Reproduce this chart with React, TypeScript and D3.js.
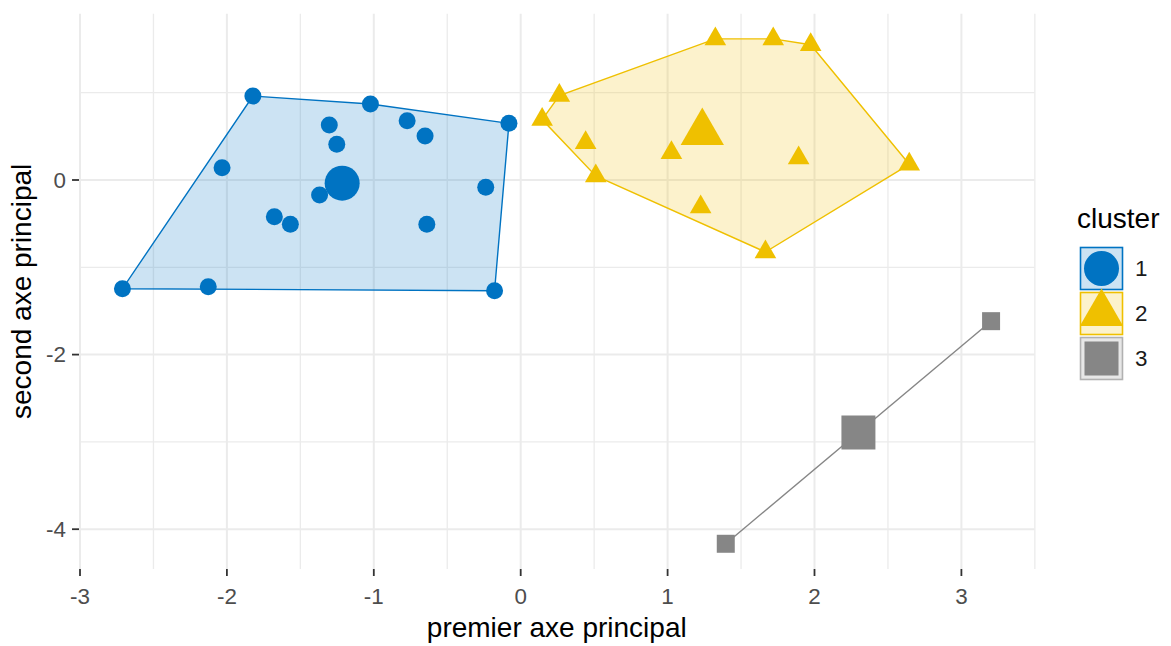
import React from "react";
import * as d3 from "d3";

// Cluster 1 (blue circles)
const cluster1X = [-1.823, -1.023, -0.773, -0.651, -0.080, -1.303, -1.252, -2.033, -1.369, -1.677, -1.568, -0.639, -0.238, -2.711, -2.127, -0.178];
const cluster1Y = [0.962, 0.871, 0.679, 0.504, 0.649, 0.630, 0.409, 0.141, -0.172, -0.420, -0.507, -0.507, -0.084, -1.245, -1.222, -1.268];
// Cluster 2 (yellow triangles)
const cluster2X = [1.325, 1.719, 1.974, 0.263, 0.146, 0.442, 1.026, 1.892, 2.645, 0.511, 1.225, 1.666];
const cluster2Y = [1.616, 1.616, 1.550, 0.967, 0.692, 0.427, 0.313, 0.251, 0.180, 0.046, -0.309, -0.825];
// Cluster 3 (grey squares)
const cluster3X = [3.202, 1.396];
const cluster3Y = [-1.617, -4.167];

const clusterNames = ["1", "2", "3"];
const clusterColors = ["#0073C2", "#EFC000", "#868686"];
const xTicks = [-3, -2, -1, 0, 1, 2, 3];
const yTicks = [-4, -2, 0];
const xMinor = [-2.5, -1.5, -0.5, 0.5, 1.5, 2.5, 3.5];
const yMinor = [-3, -1, 1];
const xTitle = "premier axe principal";
const yTitle = "second axe principal";
const legendTitle = "cluster";

const FONT = "'Liberation Sans', Arial, sans-serif";

export default function App() {
  const W = 1171, H = 646;
  const clusters = [
    { xs: cluster1X, ys: cluster1Y },
    { xs: cluster2X, ys: cluster2Y },
    { xs: cluster3X, ys: cluster3Y },
  ];
  const allX = clusters.flatMap((c) => c.xs);
  const allY = clusters.flatMap((c) => c.ys);
  const [x0, x1] = d3.extent(allX) as [number, number];
  const [y0, y1] = d3.extent(allY) as [number, number];
  const xd: [number, number] = [x0 - 0.05 * (x1 - x0), x1 + 0.05 * (x1 - x0)];
  const yd: [number, number] = [y0 - 0.05 * (y1 - y0), y1 + 0.05 * (y1 - y0)];
  const xOrigin = 520.7, xUnit = 146.9, yOrigin = 180, yUnit = 87.3;
  const L = xOrigin + xUnit * xd[0], R = xOrigin + xUnit * xd[1];
  const T = yOrigin - yUnit * yd[1], B = yOrigin - yUnit * yd[0];
  const x = d3.scaleLinear().domain(xd).range([L, R]);
  const y = d3.scaleLinear().domain(yd).range([B, T]);

  const symTypes = [d3.symbolCircle, d3.symbolTriangle, d3.symbolSquare];
  const smallSizes = [Math.PI * 8.5 * 8.5, (12.5 * 12.5 * 3 * Math.sqrt(3)) / 4, 18 * 18];
  const bigSizes = [Math.PI * 17.5 * 17.5, (25 * 25 * 3 * Math.sqrt(3)) / 4, 34 * 34];

  const data = clusters.map((c, i) => {
    const pts: [number, number][] = c.xs.map((v, j) => [x(v), y(c.ys[j])]);
    const cx = d3.mean(c.xs) as number;
    const cy = d3.mean(c.ys) as number;
    const hull = pts.length >= 3 ? d3.polygonHull(pts) : pts;
    return { pts, center: [x(cx), y(cy)] as [number, number], hull, i };
  });

  const line = d3.line();

  return (
    <svg width={W} height={H} style={{ position: "absolute", left: 0, top: 0, background: "#fff" }} fontFamily={FONT}>
      <rect x={0} y={0} width={W} height={H} fill="#fff" />
      {/* grid */}
      <g>
        {xMinor.filter((v) => x(v) <= R + 1).map((v) => (
          <line key={"xm" + v} x1={x(v)} x2={x(v)} y1={T} y2={B} stroke="#EBEBEB" strokeWidth={1.3} />
        ))}
        {yMinor.map((v) => (
          <line key={"ym" + v} x1={L} x2={R} y1={y(v)} y2={y(v)} stroke="#EBEBEB" strokeWidth={1.3} />
        ))}
        {xTicks.map((v) => (
          <line key={"xM" + v} x1={x(v)} x2={x(v)} y1={T} y2={B} stroke="#EBEBEB" strokeWidth={2} />
        ))}
        {yTicks.map((v) => (
          <line key={"yM" + v} x1={L} x2={R} y1={y(v)} y2={y(v)} stroke="#EBEBEB" strokeWidth={2} />
        ))}
      </g>
      {/* hulls */}
      <g>
        {data.map((d) =>
          d.pts.length >= 3 ? (
            <path
              key={"h" + d.i}
              d={line([...(d.hull as [number, number][]), (d.hull as [number, number][])[0]]) || ""}
              fill={clusterColors[d.i]}
              fillOpacity={0.2}
              stroke={clusterColors[d.i]}
              strokeWidth={1.4}
            />
          ) : (
            <path key={"h" + d.i} d={line(d.pts) || ""} fill="none" stroke={clusterColors[d.i]} strokeWidth={1.4} />
          )
        )}
      </g>
      {/* points */}
      <g>
        {data.map((d) =>
          d.pts.map((p, j) => (
            <path
              key={"p" + d.i + "-" + j}
              transform={`translate(${p[0]},${p[1]})`}
              d={d3.symbol(symTypes[d.i], smallSizes[d.i])() || ""}
              fill={clusterColors[d.i]}
            />
          ))
        )}
        {data.map((d) => (
          <path
            key={"c" + d.i}
            transform={`translate(${d.center[0]},${d.center[1]})`}
            d={d3.symbol(symTypes[d.i], bigSizes[d.i])() || ""}
            fill={clusterColors[d.i]}
          />
        ))}
      </g>
      {/* x axis */}
      <g>
        {xTicks.map((v) => (
          <g key={"xt" + v}>
            <line x1={x(v)} x2={x(v)} y1={B} y2={B + 7} stroke="#333333" strokeWidth={1.8} />
            <text x={x(v)} y={B + 35} textAnchor="middle" fontSize={22.4} fill="#4D4D4D">
              {v}
            </text>
          </g>
        ))}
        <text x={(L + R) / 2} y={637} textAnchor="middle" fontSize={28} fill="#000">
          {xTitle}
        </text>
      </g>
      {/* y axis */}
      <g>
        {yTicks.map((v) => (
          <g key={"yt" + v}>
            <line x1={L - 7} x2={L} y1={y(v)} y2={y(v)} stroke="#333333" strokeWidth={1.8} />
            <text x={L - 13} y={y(v)} dy="0.35em" textAnchor="end" fontSize={22.4} fill="#4D4D4D">
              {v}
            </text>
          </g>
        ))}
        <text
          transform={`translate(${31},${(T + B) / 2}) rotate(-90)`}
          textAnchor="middle"
          fontSize={28}
          fill="#000"
        >
          {yTitle}
        </text>
      </g>
      {/* legend */}
      <g>
        <text x={1077} y={228} fontSize={28} fill="#000">
          {legendTitle}
        </text>
        {clusterNames.map((name, i) => {
          const ky = 247 + i * 45;
          const cx = 1080 + 21.5;
          const cy = ky + 21.5;
          return (
            <g key={"lg" + i}>
              <rect
                x={1080.5}
                y={ky + 0.5}
                width={42}
                height={42}
                fill={clusterColors[i]}
                fillOpacity={0.2}
                stroke={clusterColors[i]}
                strokeOpacity={i === 2 ? 0.6 : 1}
                strokeWidth={1.6}
              />
              <path
                transform={`translate(${cx},${cy})`}
                d={d3.symbol(symTypes[i], bigSizes[i])() || ""}
                fill={clusterColors[i]}
              />
              <text x={1135} y={cy} dy="0.35em" fontSize={22.4} fill="#1A1A1A">
                {name}
              </text>
            </g>
          );
        })}
      </g>
    </svg>
  );
}
